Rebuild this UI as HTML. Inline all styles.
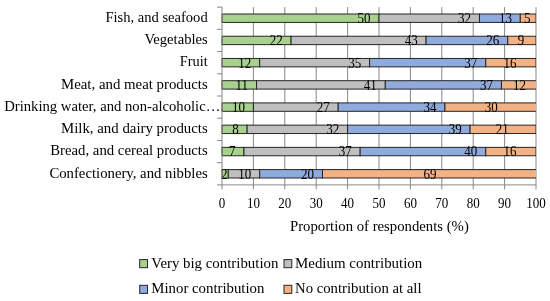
<!DOCTYPE html>
<html><head><meta charset="utf-8"><title>chart</title>
<style>html,body{margin:0;padding:0;background:#fff;width:550px;height:301px;overflow:hidden;font-family:"Liberation Serif",serif;}</style>
</head><body>
<svg width="550" height="301" viewBox="0 0 550 301" style="position:absolute;left:0;top:0;will-change:transform" font-family="'Liberation Serif', serif" font-size="14.0" fill="#000">
<rect width="550" height="301" fill="#fff"/>
<line x1="253.40" y1="7.10" x2="253.40" y2="189.40" stroke="#878787" stroke-width="1"/>
<line x1="284.80" y1="7.10" x2="284.80" y2="189.40" stroke="#878787" stroke-width="1"/>
<line x1="316.20" y1="7.10" x2="316.20" y2="189.40" stroke="#878787" stroke-width="1"/>
<line x1="347.60" y1="7.10" x2="347.60" y2="189.40" stroke="#878787" stroke-width="1"/>
<line x1="379.00" y1="7.10" x2="379.00" y2="189.40" stroke="#878787" stroke-width="1"/>
<line x1="410.40" y1="7.10" x2="410.40" y2="189.40" stroke="#878787" stroke-width="1"/>
<line x1="441.80" y1="7.10" x2="441.80" y2="189.40" stroke="#878787" stroke-width="1"/>
<line x1="473.20" y1="7.10" x2="473.20" y2="189.40" stroke="#878787" stroke-width="1"/>
<line x1="504.60" y1="7.10" x2="504.60" y2="189.40" stroke="#878787" stroke-width="1"/>
<line x1="536.00" y1="7.10" x2="536.00" y2="189.40" stroke="#878787" stroke-width="1"/>
<clipPath id="c"><rect x="221.00" y="0" width="315.00" height="200"/></clipPath>
<g clip-path="url(#c)">
<rect x="222.00" y="14.01" width="157.00" height="8.40" fill="#A9D18E" stroke="#262626" stroke-width="1"/>
<rect x="379.00" y="14.01" width="100.48" height="8.40" fill="#BFBFBF" stroke="#262626" stroke-width="1"/>
<rect x="479.48" y="14.01" width="40.82" height="8.40" fill="#8FAADC" stroke="#262626" stroke-width="1"/>
<rect x="520.30" y="14.01" width="15.70" height="8.40" fill="#F4B183" stroke="#262626" stroke-width="1"/>
<rect x="222.00" y="36.24" width="69.08" height="8.40" fill="#A9D18E" stroke="#262626" stroke-width="1"/>
<rect x="291.08" y="36.24" width="135.02" height="8.40" fill="#BFBFBF" stroke="#262626" stroke-width="1"/>
<rect x="426.10" y="36.24" width="81.64" height="8.40" fill="#8FAADC" stroke="#262626" stroke-width="1"/>
<rect x="507.74" y="36.24" width="28.26" height="8.40" fill="#F4B183" stroke="#262626" stroke-width="1"/>
<rect x="222.00" y="58.46" width="37.68" height="8.40" fill="#A9D18E" stroke="#262626" stroke-width="1"/>
<rect x="259.68" y="58.46" width="109.90" height="8.40" fill="#BFBFBF" stroke="#262626" stroke-width="1"/>
<rect x="369.58" y="58.46" width="116.18" height="8.40" fill="#8FAADC" stroke="#262626" stroke-width="1"/>
<rect x="485.76" y="58.46" width="50.24" height="8.40" fill="#F4B183" stroke="#262626" stroke-width="1"/>
<rect x="222.00" y="80.69" width="34.54" height="8.40" fill="#A9D18E" stroke="#262626" stroke-width="1"/>
<rect x="256.54" y="80.69" width="128.74" height="8.40" fill="#BFBFBF" stroke="#262626" stroke-width="1"/>
<rect x="385.28" y="80.69" width="116.18" height="8.40" fill="#8FAADC" stroke="#262626" stroke-width="1"/>
<rect x="501.46" y="80.69" width="37.68" height="8.40" fill="#F4B183" stroke="#262626" stroke-width="1"/>
<rect x="222.00" y="102.91" width="31.40" height="8.40" fill="#A9D18E" stroke="#262626" stroke-width="1"/>
<rect x="253.40" y="102.91" width="84.78" height="8.40" fill="#BFBFBF" stroke="#262626" stroke-width="1"/>
<rect x="338.18" y="102.91" width="106.76" height="8.40" fill="#8FAADC" stroke="#262626" stroke-width="1"/>
<rect x="444.94" y="102.91" width="94.20" height="8.40" fill="#F4B183" stroke="#262626" stroke-width="1"/>
<rect x="222.00" y="125.14" width="25.12" height="8.40" fill="#A9D18E" stroke="#262626" stroke-width="1"/>
<rect x="247.12" y="125.14" width="100.48" height="8.40" fill="#BFBFBF" stroke="#262626" stroke-width="1"/>
<rect x="347.60" y="125.14" width="122.46" height="8.40" fill="#8FAADC" stroke="#262626" stroke-width="1"/>
<rect x="470.06" y="125.14" width="65.94" height="8.40" fill="#F4B183" stroke="#262626" stroke-width="1"/>
<rect x="222.00" y="147.36" width="21.98" height="8.40" fill="#A9D18E" stroke="#262626" stroke-width="1"/>
<rect x="243.98" y="147.36" width="116.18" height="8.40" fill="#BFBFBF" stroke="#262626" stroke-width="1"/>
<rect x="360.16" y="147.36" width="125.60" height="8.40" fill="#8FAADC" stroke="#262626" stroke-width="1"/>
<rect x="485.76" y="147.36" width="50.24" height="8.40" fill="#F4B183" stroke="#262626" stroke-width="1"/>
<rect x="222.00" y="169.59" width="6.28" height="8.40" fill="#A9D18E" stroke="#262626" stroke-width="1"/>
<rect x="228.28" y="169.59" width="31.40" height="8.40" fill="#BFBFBF" stroke="#262626" stroke-width="1"/>
<rect x="259.68" y="169.59" width="62.80" height="8.40" fill="#8FAADC" stroke="#262626" stroke-width="1"/>
<rect x="322.48" y="169.59" width="216.66" height="8.40" fill="#F4B183" stroke="#262626" stroke-width="1"/>
</g>
<text x="357.58" y="23.11" textLength="13.02" lengthAdjust="spacingAndGlyphs">50</text>
<text x="458.06" y="23.11" textLength="13.02" lengthAdjust="spacingAndGlyphs">32</text>
<text x="498.88" y="23.11" textLength="13.02" lengthAdjust="spacingAndGlyphs">13</text>
<text x="524.10" y="23.11" textLength="6.51" lengthAdjust="spacingAndGlyphs">5</text>
<text x="269.66" y="45.34" textLength="13.02" lengthAdjust="spacingAndGlyphs">22</text>
<text x="404.68" y="45.34" textLength="13.02" lengthAdjust="spacingAndGlyphs">43</text>
<text x="486.32" y="45.34" textLength="13.02" lengthAdjust="spacingAndGlyphs">26</text>
<text x="517.82" y="45.34" textLength="6.51" lengthAdjust="spacingAndGlyphs">9</text>
<text x="238.26" y="67.56" textLength="13.02" lengthAdjust="spacingAndGlyphs">12</text>
<text x="348.16" y="67.56" textLength="13.02" lengthAdjust="spacingAndGlyphs">35</text>
<text x="464.34" y="67.56" textLength="13.02" lengthAdjust="spacingAndGlyphs">37</text>
<text x="503.57" y="67.56" textLength="13.02" lengthAdjust="spacingAndGlyphs">16</text>
<text x="235.60" y="89.79" textLength="12.54" lengthAdjust="spacingAndGlyphs">11</text>
<text x="363.86" y="89.79" textLength="13.02" lengthAdjust="spacingAndGlyphs">41</text>
<text x="480.04" y="89.79" textLength="13.02" lengthAdjust="spacingAndGlyphs">37</text>
<text x="512.99" y="89.79" textLength="13.02" lengthAdjust="spacingAndGlyphs">12</text>
<text x="231.98" y="112.01" textLength="13.02" lengthAdjust="spacingAndGlyphs">10</text>
<text x="316.76" y="112.01" textLength="13.02" lengthAdjust="spacingAndGlyphs">27</text>
<text x="423.52" y="112.01" textLength="13.02" lengthAdjust="spacingAndGlyphs">34</text>
<text x="484.73" y="112.01" textLength="13.02" lengthAdjust="spacingAndGlyphs">30</text>
<text x="232.21" y="134.24" textLength="6.51" lengthAdjust="spacingAndGlyphs">8</text>
<text x="326.18" y="134.24" textLength="13.02" lengthAdjust="spacingAndGlyphs">32</text>
<text x="448.64" y="134.24" textLength="13.02" lengthAdjust="spacingAndGlyphs">39</text>
<text x="495.72" y="134.24" textLength="13.02" lengthAdjust="spacingAndGlyphs">21</text>
<text x="228.94" y="156.46" textLength="6.51" lengthAdjust="spacingAndGlyphs">7</text>
<text x="338.74" y="156.46" textLength="13.02" lengthAdjust="spacingAndGlyphs">37</text>
<text x="464.34" y="156.46" textLength="13.02" lengthAdjust="spacingAndGlyphs">40</text>
<text x="503.57" y="156.46" textLength="13.02" lengthAdjust="spacingAndGlyphs">16</text>
<text x="221.08" y="178.69" textLength="6.51" lengthAdjust="spacingAndGlyphs">2</text>
<text x="238.26" y="178.69" textLength="13.02" lengthAdjust="spacingAndGlyphs">10</text>
<text x="301.06" y="178.69" textLength="13.02" lengthAdjust="spacingAndGlyphs">20</text>
<text x="423.50" y="178.69" textLength="13.02" lengthAdjust="spacingAndGlyphs">69</text>
<line x1="222.00" y1="7.10" x2="222.00" y2="189.40" stroke="#878787" stroke-width="1"/>
<line x1="217.00" y1="184.90" x2="536.00" y2="184.90" stroke="#878787" stroke-width="1"/>
<line x1="217.00" y1="7.10" x2="222.00" y2="7.10" stroke="#878787" stroke-width="1"/>
<line x1="217.00" y1="29.33" x2="222.00" y2="29.33" stroke="#878787" stroke-width="1"/>
<line x1="217.00" y1="51.55" x2="222.00" y2="51.55" stroke="#878787" stroke-width="1"/>
<line x1="217.00" y1="73.78" x2="222.00" y2="73.78" stroke="#878787" stroke-width="1"/>
<line x1="217.00" y1="96.00" x2="222.00" y2="96.00" stroke="#878787" stroke-width="1"/>
<line x1="217.00" y1="118.22" x2="222.00" y2="118.22" stroke="#878787" stroke-width="1"/>
<line x1="217.00" y1="140.45" x2="222.00" y2="140.45" stroke="#878787" stroke-width="1"/>
<line x1="217.00" y1="162.68" x2="222.00" y2="162.68" stroke="#878787" stroke-width="1"/>
<text x="105.40" y="22.00" textLength="102.30" lengthAdjust="spacingAndGlyphs">Fish, and seafood</text>
<text x="144.40" y="44.23" textLength="63.30" lengthAdjust="spacingAndGlyphs">Vegetables</text>
<text x="179.80" y="66.45" textLength="27.90" lengthAdjust="spacingAndGlyphs">Fruit</text>
<text x="61.00" y="88.68" textLength="146.70" lengthAdjust="spacingAndGlyphs">Meat, and meat products</text>
<text x="4.20" y="110.90" textLength="216.20" lengthAdjust="spacingAndGlyphs">Drinking water, and non-alcoholic…</text>
<text x="61.00" y="133.12" textLength="146.70" lengthAdjust="spacingAndGlyphs">Milk, and dairy products</text>
<text x="50.20" y="155.35" textLength="157.50" lengthAdjust="spacingAndGlyphs">Bread, and cereal products</text>
<text x="49.40" y="177.58" textLength="158.30" lengthAdjust="spacingAndGlyphs">Confectionery, and nibbles</text>
<text x="218.75" y="208.40" textLength="6.51" lengthAdjust="spacingAndGlyphs">0</text>
<text x="246.89" y="208.40" textLength="13.02" lengthAdjust="spacingAndGlyphs">10</text>
<text x="278.29" y="208.40" textLength="13.02" lengthAdjust="spacingAndGlyphs">20</text>
<text x="309.69" y="208.40" textLength="13.02" lengthAdjust="spacingAndGlyphs">30</text>
<text x="341.09" y="208.40" textLength="13.02" lengthAdjust="spacingAndGlyphs">40</text>
<text x="372.49" y="208.40" textLength="13.02" lengthAdjust="spacingAndGlyphs">50</text>
<text x="403.89" y="208.40" textLength="13.02" lengthAdjust="spacingAndGlyphs">60</text>
<text x="435.29" y="208.40" textLength="13.02" lengthAdjust="spacingAndGlyphs">70</text>
<text x="466.69" y="208.40" textLength="13.02" lengthAdjust="spacingAndGlyphs">80</text>
<text x="498.09" y="208.40" textLength="13.02" lengthAdjust="spacingAndGlyphs">90</text>
<text x="526.24" y="208.40" textLength="19.53" lengthAdjust="spacingAndGlyphs">100</text>
<text x="290.00" y="231.20" textLength="178.80" lengthAdjust="spacingAndGlyphs">Proportion of respondents (%)</text>
<rect x="139.70" y="259.60" width="7.8" height="8.1" fill="#A9D18E" stroke="#262626" stroke-width="1"/>
<text x="151.30" y="268.00" textLength="127.10" lengthAdjust="spacingAndGlyphs">Very big contribution</text>
<rect x="284.00" y="259.60" width="7.8" height="8.1" fill="#BFBFBF" stroke="#262626" stroke-width="1"/>
<text x="295.00" y="268.00" textLength="127.30" lengthAdjust="spacingAndGlyphs">Medium contribution</text>
<rect x="139.70" y="285.30" width="7.8" height="8.1" fill="#8FAADC" stroke="#262626" stroke-width="1"/>
<text x="151.30" y="293.30" textLength="113.10" lengthAdjust="spacingAndGlyphs">Minor contribution</text>
<rect x="284.00" y="285.30" width="7.8" height="8.1" fill="#F4B183" stroke="#262626" stroke-width="1"/>
<text x="295.00" y="293.30" textLength="126.50" lengthAdjust="spacingAndGlyphs">No contribution at all</text>
</svg>
</body></html>
